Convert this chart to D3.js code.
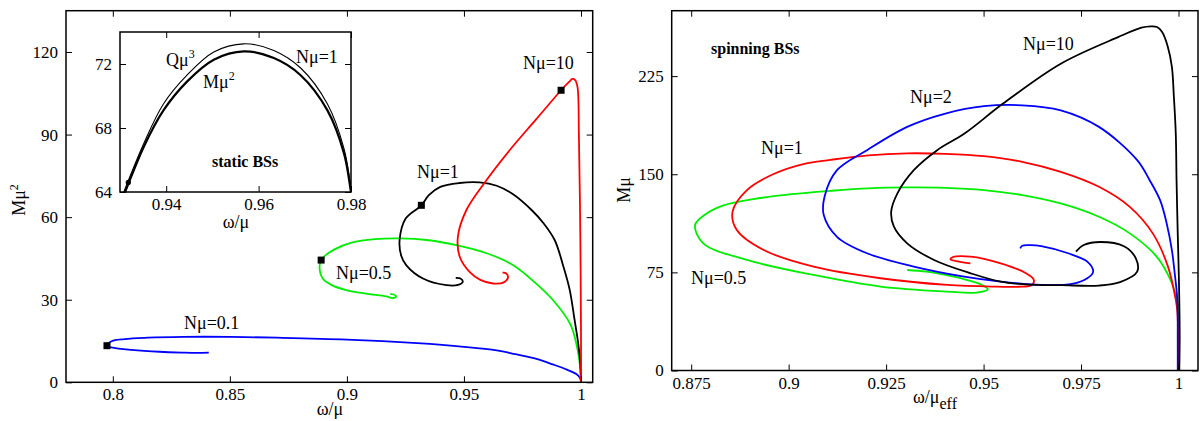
<!DOCTYPE html>
<html><head><meta charset="utf-8">
<script src="https://cdn.jsdelivr.net/npm/d3@7"></script>
<style>
body{margin:0;background:#fff}
text{font-family:"Liberation Serif","Times New Roman",serif !important;fill:#000}
</style>
</head><body>
<svg id="c" width="1200" height="421"></svg>
<script>
// ---------- DATA ----------
// Left panel: static BSs, M mu^2 vs omega/mu
const staticN01 = [[1.0,0],[0.9996,1.5],[0.998,3.0],[0.994,4.6],[0.988,6.5],[0.981,8.5],[0.972,10.2],[0.964,11.6],[0.95,12.9],[0.93,14.2],[0.9,15.5],[0.87,16.2],[0.85,16.5],[0.83,16.5],[0.815,16.2],[0.805,15.7],[0.7995,14.9],[0.7975,13.3],[0.800,12.6],[0.808,11.8],[0.82,11.1],[0.83,10.8],[0.836,10.7],[0.841,10.8]];
const staticN05 = [[1.0,0],[0.9998,3],[0.9993,8],[0.998,14],[0.9955,21],[0.988,29.9],[0.98,36.5],[0.9709,42.6],[0.96,46.8],[0.9467,49.8],[0.935,51.6],[0.9225,52.3],[0.912,52.0],[0.902,50.7],[0.8945,48.2],[0.8900,45.5],[0.889,44.4],[0.8883,42.0],[0.8897,37.7],[0.8935,35.3],[0.8997,33.5],[0.908,32.2],[0.9168,31.2],[0.9195,30.6],[0.9210,31.2],[0.9200,31.9],[0.9185,32.0]];
const staticN1 = [[1.0,0.5],[0.9996,8],[0.9986,15.4],[0.9972,23],[0.9952,33.5],[0.9925,42],[0.9888,51.6],[0.984,57.8],[0.979,62.5],[0.971,68.3],[0.964,71.4],[0.9567,72.6],[0.9481,72.4],[0.9399,71.0],[0.935,68],[0.9318,64.3],[0.9251,59.5],[0.9225,51.6],[0.9232,46],[0.9254,42.5],[0.9325,37.7],[0.9425,35.3],[0.9475,35.4],[0.9495,36.5],[0.9485,37.7],[0.9465,37.9]];
const staticN10 = [[1.0,0],[1.0,17.8],[0.9997,54],[0.9991,90],[0.9985,107.3],[0.9975,109.8],[0.9963,110.2],[0.995,109.2],[0.9915,106.1],[0.9808,95.5],[0.9695,84.3],[0.9589,72.6],[0.951,62.5],[0.9474,52.8],[0.9482,45.6],[0.9524,40.1],[0.9570,37.2],[0.9624,35.9],[0.9668,36.2],[0.9688,38.0],[0.9680,39.6],[0.9665,39.8]];
const staticMarkers = [[0.7975,13.3],[0.889,44.4],[0.9318,64.3],[0.9915,106.1]];
const staticLabels = ["Nμ=0.1","Nμ=0.5","Nμ=1","Nμ=10"];

// Inset: N mu = 1, M mu^2 and Q mu^3
const insetM = [[0.9302,63.4],[0.9311,64.0],[0.9351,66.8],[0.9394,69.1],[0.9445,70.9],[0.9503,72.27],[0.9568,72.79],[0.9633,72.37],[0.9691,71.3],[0.9749,69.1],[0.9785,66.4],[0.98,64],[0.9806,63.0]];
const insetQ = [[0.9302,63.5],[0.9311,64.2],[0.9351,67.0],[0.9394,69.5],[0.9445,71.3],[0.9503,72.75],[0.9568,73.26],[0.9633,72.85],[0.9691,71.75],[0.9749,69.5],[0.9785,66.7],[0.98,64.3],[0.9807,63.2]];
const insetMarker = [[0.9318,64.6]];

// Right panel: spinning BSs, M mu vs omega/mu_eff
const spinN05 = [[1.0,0],[0.9999,30],[0.9998,51.4],[0.9983,66.7],[0.9944,87],[0.9875,104.8],[0.9796,117.5],[0.9698,127.7],[0.9599,134.1],[0.9501,137.9],[0.9402,139.6],[0.9304,139.9],[0.9205,139.2],[0.9107,137.3],[0.9008,134.8],[0.891,131],[0.8831,126],[0.8785,119],[0.876,111.2],[0.8781,97.2],[0.8893,84.5],[0.9064,73.0],[0.9236,64.1],[0.9407,60.3],[0.9481,59.6],[0.9511,62.1],[0.9496,65.4],[0.9451,69.7],[0.9402,73.0],[0.9353,75.5],[0.9304,76.8]];
const spinN1 = [[1.0,0],[0.9999,30],[0.9997,45],[0.9993,54],[0.9973,79.4],[0.9934,104.8],[0.9875,125.1],[0.9796,140.4],[0.9698,151.8],[0.9599,159.5],[0.9501,163.8],[0.9402,165.6],[0.9304,166],[0.9205,164.5],[0.9107,161],[0.9040,158],[0.8960,150],[0.8893,137.9],[0.8856,121.3],[0.8867,107.4],[0.8936,92.1],[0.9064,79.4],[0.9236,70.5],[0.9407,65.4],[0.9535,64.1],[0.9590,64.0],[0.9624,65.4],[0.9629,69.2],[0.9609,74.3],[0.9544,81.9],[0.9467,87.0],[0.9420,86.5],[0.9415,85.0],[0.9440,83.0],[0.9466,81.8]];
const spinN2 = [[0.9998,0],[0.9998,25],[0.9997,54],[0.9990,75],[0.9983,92],[0.9970,112],[0.9953,130],[0.9925,146],[0.9894,160.8],[0.9796,186.2],[0.9698,198.9],[0.9599,202.7],[0.9501,202],[0.9402,196.4],[0.9304,186.2],[0.9201,168.4],[0.9124,153.1],[0.9092,132.8],[0.9090,118.8],[0.9124,102.2],[0.9201,89.6],[0.9321,79.4],[0.945,71.7],[0.9544,67.9],[0.9648,65.4],[0.9727,66.2],[0.9766,70.5],[0.9781,75.5],[0.9766,83.2],[0.9717,89.6],[0.9648,95.1],[0.9620,95.8],[0.9599,95.4],[0.9594,93.4]];
const spinN10 = [[1.0002,0],[1.0003,28],[1.0001,70],[0.9998,105],[0.9995,145],[0.9993,181],[0.9988,210],[0.9983,232],[0.9972,248],[0.9958,258.7],[0.9945,262.5],[0.9929,263],[0.9905,262],[0.9845,254.8],[0.9698,234.5],[0.955,204],[0.9451,181.1],[0.9381,168.4],[0.9321,153.1],[0.9279,135.4],[0.9263,121.3],[0.927,109.9],[0.9304,97.2],[0.9373,84.5],[0.9467,74.3],[0.9544,67.9],[0.9620,65.6],[0.9698,65.2],[0.9796,64.9],[0.9850,67.5],[0.9894,75.5],[0.9890,86],[0.9860,95],[0.9800,98.2],[0.9757,95.9],[0.9737,90.8]];
const spinLabels = ["Nμ=0.5","Nμ=1","Nμ=2","Nμ=10"];

// Ticks
const leftXTicks = [0.8,0.85,0.9,0.95,1];
const leftYTicks = [0,30,60,90,120];
const insetXTicks = [0.94,0.96,0.98];
const insetYTicks = [64,68,72];
const rightXTicks = [0.875,0.9,0.925,0.95,0.975,1];
const rightYTicks = [0,75,150,225];

// ---------- DRAW ----------
const svg = d3.select("#c");
const TICK = 6;
const FS = 17;
const FONT = '"Liberation Serif", serif';

function frameAxes(g, x, y, xt, yt, fmtX, fmtY) {
  const [x0,x1] = x.range(), [y0,y1] = y.range();
  g.append("g").attr("transform",`translate(0,${y0})`)
    .call(d3.axisBottom(x).tickValues(xt).tickSize(-TICK).tickSizeOuter(0).tickPadding(6).tickFormat(fmtX));
  g.append("g").attr("transform",`translate(0,${y1})`)
    .call(d3.axisTop(x).tickValues(xt).tickSize(-TICK).tickSizeOuter(0).tickFormat(""));
  g.append("g").attr("transform",`translate(${x0},0)`)
    .call(d3.axisLeft(y).tickValues(yt).tickSize(-TICK).tickSizeOuter(0).tickPadding(8).tickFormat(fmtY));
  g.append("g").attr("transform",`translate(${x1},0)`)
    .call(d3.axisRight(y).tickValues(yt).tickSize(-TICK).tickSizeOuter(0).tickFormat(""));
  g.selectAll(".domain").remove();
  g.selectAll("g").attr("font-family",FONT);
  g.selectAll(".tick line").attr("stroke","#000").attr("stroke-width",1);
  g.selectAll(".tick text").attr("font-size",FS).style("font-family",FONT).attr("fill","#000");
  g.append("rect").attr("x",x0).attr("y",y1).attr("width",x1-x0).attr("height",y0-y1)
    .attr("fill","none").attr("stroke","#000").attr("stroke-width",1.5);
}

const line = (x,y) => d3.line().x(d=>x(d[0])).y(d=>y(d[1])).curve(d3.curveCatmullRom.alpha(0.5));

// Left panel
const xL = d3.scaleLinear().domain([0.78,1.005]).range([66,592.7]);
const yL = d3.scaleLinear().domain([0,135]).range([382.3,10.7]);
const gL = svg.append("g");
svg.append("clipPath").attr("id","clipL").append("rect")
  .attr("x",66).attr("y",10.7).attr("width",592.7-66).attr("height",382.3-10.7);
const curvesL = [[staticN01,"#0000ff"],[staticN05,"#00ee00"],[staticN1,"#000000"],[staticN10,"#ff0000"]];
const cl = gL.append("g").attr("clip-path","url(#clipL)");
curvesL.forEach(([d,c]) => cl.append("path").attr("d",line(xL,yL)(d)).attr("fill","none").attr("stroke",c).attr("stroke-width",1.8));
cl.selectAll("rect.mk").data(staticMarkers).join("rect").attr("class","mk")
  .attr("x",d=>xL(d[0])-3.5).attr("y",d=>yL(d[1])-3.5).attr("width",7).attr("height",7).attr("fill","#000");
frameAxes(gL, xL, yL, leftXTicks, leftYTicks, d3.format("~g"), d3.format("d"));

const lblL = [[staticLabels[0],184,329],[staticLabels[1],336,279],[staticLabels[2],417,178],[staticLabels[3],523,69]];
lblL.forEach(([t,x,y]) => gL.append("text").attr("x",x).attr("y",y).attr("font-size",18).text(t));
gL.append("text").attr("x",330).attr("y",415).attr("text-anchor","middle").attr("font-size",18).text("ω/μ");
const ylab = gL.append("text").attr("transform","translate(25,200) rotate(-90)").attr("text-anchor","middle").attr("font-size",18);
ylab.append("tspan").text("Mμ");
ylab.append("tspan").attr("dy",-7).attr("font-size",12).text("2");

// Inset
const xI = d3.scaleLinear().domain([0.93,0.98]).range([120,351]);
const yI = d3.scaleLinear().domain([64,74]).range([192,32]);
const gI = svg.append("g");
gI.append("rect").attr("x",120).attr("y",32).attr("width",231).attr("height",160).attr("fill","#fff");
svg.append("clipPath").attr("id","clipI").append("rect").attr("x",120).attr("y",32).attr("width",231).attr("height",160);
const ci = gI.append("g").attr("clip-path","url(#clipI)");
ci.append("path").attr("d",line(xI,yI)(insetQ)).attr("fill","none").attr("stroke","#000").attr("stroke-width",1.1);
ci.append("path").attr("d",line(xI,yI)(insetM)).attr("fill","none").attr("stroke","#000").attr("stroke-width",2.2);
ci.selectAll("circle").data(insetMarker).join("circle").attr("cx",d=>xI(d[0])).attr("cy",d=>yI(d[1])).attr("r",2.6).attr("fill","#000");
frameAxes(gI, xI, yI, insetXTicks, insetYTicks, d3.format(".2f"), d3.format("d"));
const q = gI.append("text").attr("x",166).attr("y",66).attr("font-size",18);
q.append("tspan").text("Qμ"); q.append("tspan").attr("dy",-8).attr("font-size",12).text("3");
const m = gI.append("text").attr("x",203).attr("y",88).attr("font-size",18);
m.append("tspan").text("Mμ"); m.append("tspan").attr("dy",-8).attr("font-size",12).text("2");
gI.append("text").attr("x",296).attr("y",63).attr("font-size",18).text("Nμ=1");
gI.append("text").attr("x",212).attr("y",167).attr("font-size",16).attr("font-weight","bold").text("static BSs");
gI.append("text").attr("x",236).attr("y",228).attr("text-anchor","middle").attr("font-size",18).text("ω/μ");

// Right panel
const xR = d3.scaleLinear().domain([0.87,1.005]).range([671.7,1198]);
const yR = d3.scaleLinear().domain([0,275]).range([370.5,10.7]);
const gR = svg.append("g");
svg.append("clipPath").attr("id","clipR").append("rect")
  .attr("x",671.7).attr("y",10.7).attr("width",1198-671.7).attr("height",370.5-10.7);
const cr = gR.append("g").attr("clip-path","url(#clipR)");
const curvesR = [[spinN05,"#00ee00"],[spinN1,"#ff0000"],[spinN2,"#0000ff"],[spinN10,"#000000"]];
curvesR.forEach(([d,c]) => cr.append("path").attr("d",line(xR,yR)(d)).attr("fill","none").attr("stroke",c).attr("stroke-width",1.8));
frameAxes(gR, xR, yR, rightXTicks, rightYTicks, d3.format("~g"), d3.format("d"));
gR.append("text").attr("x",711).attr("y",54).attr("font-size",16).attr("font-weight","bold").text("spinning BSs");
const lblR = [[spinLabels[0],691,284],[spinLabels[1],761,154],[spinLabels[2],910,103],[spinLabels[3],1023,50]];
lblR.forEach(([t,x,y]) => gR.append("text").attr("x",x).attr("y",y).attr("font-size",18).text(t));
const xt = gR.append("text").attr("x",935).attr("y",403).attr("text-anchor","middle").attr("font-size",18);
xt.append("tspan").text("ω/μ"); xt.append("tspan").attr("dy",6).attr("font-size",16).text("eff");
gR.append("text").attr("transform","translate(630,190) rotate(-90)").attr("text-anchor","middle").attr("font-size",18).text("Mμ");
</script>
</body></html>
